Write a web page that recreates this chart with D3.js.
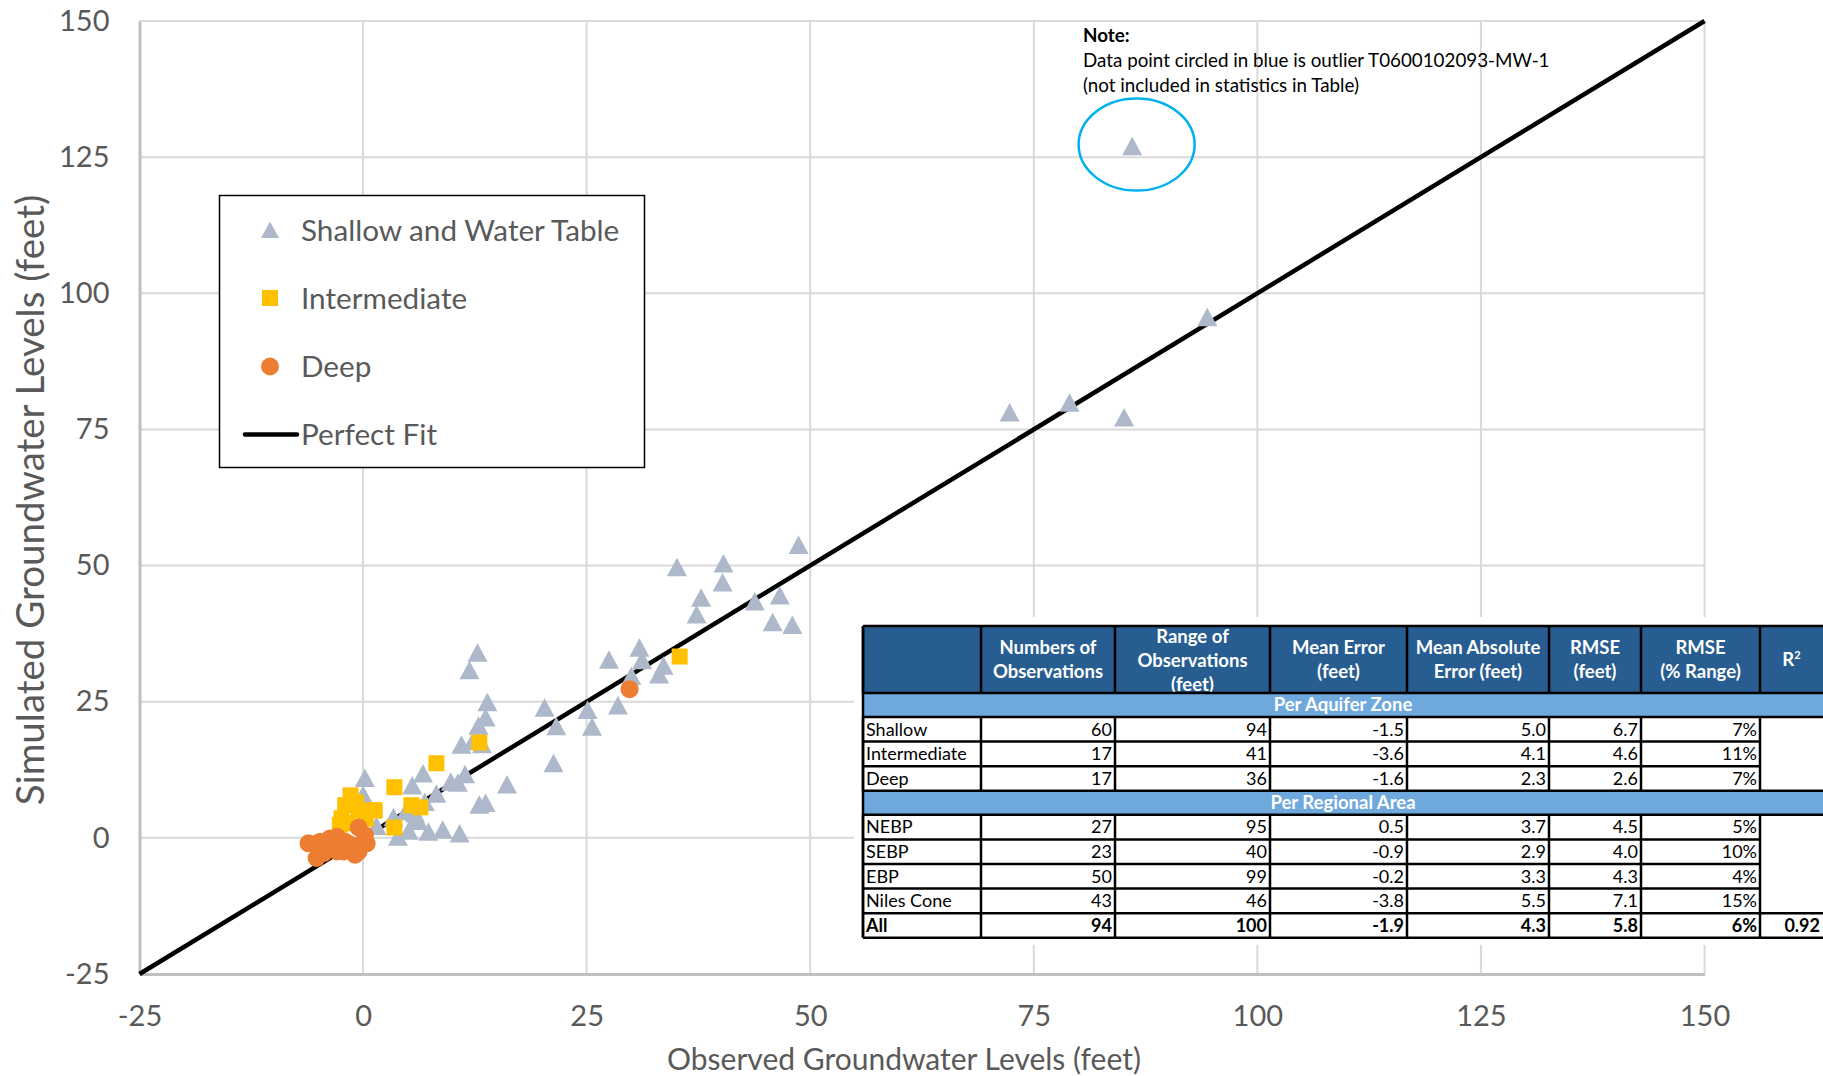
<!DOCTYPE html>
<html>
<head>
<meta charset="utf-8">
<script src="https://cdn.jsdelivr.net/npm/d3@7"></script>
<style>
  body { margin: 0; background: #fff; }
  svg { display: block; font-family: Lato, "Open Sans", sans-serif; }
</style>
</head>
<body>
<svg id="chart" width="1823" height="1076"></svg>
<script>
// observed vs simulated (feet)
const shallow = [
  [94.4, 95.6], [72.3, 78.1], [79.0, 79.9], [85.1, 77.2],
  [48.7, 53.8], [35.1, 49.7], [40.3, 50.4], [40.2, 46.9], [37.8, 44.1], [37.3, 41.0],
  [43.8, 43.4], [46.6, 44.5], [45.8, 39.6], [48.0, 39.1],
  [27.5, 32.7], [30.9, 34.9], [31.2, 32.6], [33.6, 31.6], [33.1, 30.0], [30.0, 29.7],
  [28.5, 24.3], [25.1, 23.5], [20.3, 23.9], [21.6, 20.5], [25.6, 20.4], [21.3, 13.7],
  [12.8, 34.0], [11.9, 30.8], [13.9, 24.9], [13.7, 22.1], [12.9, 20.6], [11.0, 17.1], [13.3, 17.2],
  [6.7, 11.8], [9.8, 10.3], [11.4, 11.7], [10.6, 10.1], [16.1, 9.8], [5.5, 9.6], [8.2, 8.1],
  [6.9, 6.6], [13.0, 6.1], [13.7, 6.4], [4.8, 4.9], [6.0, 3.1], [5.1, 1.3], [7.3, 1.1],
  [8.9, 1.5], [10.8, 0.8], [3.4, 3.8], [1.5, 2.2], [3.9, 0.2], [0.2, 11.0], [0.0, 7.9], [6.0, 3.6],
  [12.3, 17.8], [5.8, 4.5]
];
const outlier = [86.0, 127.0];
const intermediate = [
  [35.4, 33.3], [13.0, 17.5], [8.2, 13.7], [3.5, 9.3], [-1.4, 7.8], [5.4, 6.0], [6.4, 5.6],
  [-0.5, 5.0], [1.1, 5.1], [-2.4, 3.6], [-1.8, 2.7], [3.5, 1.9], [-2.0, 6.0], [-2.6, 2.4],
  [0.3, 3.5], [-0.8, 6.5], [1.3, 5.0]
];
const deep = [
  [29.8, 27.3], [-6.1, -1.0], [-4.8, -0.7], [-3.7, -0.1], [-2.9, 0.2], [-2.0, -0.7], [-1.3, -1.3],
  [-0.5, -2.5], [0.4, -1.0], [0.2, 0.5], [-0.5, 1.9], [-5.2, -3.7], [-4.4, -2.8], [-2.9, -2.5],
  [-2.2, -2.5], [-0.9, -3.1], [-3.5, -1.5]
];
const perfectFit = [[-25, -25], [150, 150]];

const xTicks = [-25, 0, 25, 50, 75, 100, 125, 150];
const yTicks = [-25, 0, 25, 50, 75, 100, 125, 150];

const legendItems = ['Shallow and Water Table', 'Intermediate', 'Deep', 'Perfect Fit'];
const noteLines = ['Data point circled in blue is outlier T0600102093-MW-1', '(not included in statistics in Table)'];

// statistics table
const tableHeader = [
  [''], ['Numbers of', 'Observations'], ['Range of', 'Observations', '(feet)'], ['Mean Error', '(feet)'],
  ['Mean Absolute', 'Error (feet)'], ['RMSE', '(feet)'], ['RMSE', '(% Range)'], ['R2']
];
const zoneRows = [
  ['Shallow', '60', '94', '-1.5', '5.0', '6.7', '7%'],
  ['Intermediate', '17', '41', '-3.6', '4.1', '4.6', '11%'],
  ['Deep', '17', '36', '-1.6', '2.3', '2.6', '7%']
];
const regionRows = [
  ['NEBP', '27', '95', '0.5', '3.7', '4.5', '5%'],
  ['SEBP', '23', '40', '-0.9', '2.9', '4.0', '10%'],
  ['EBP', '50', '99', '-0.2', '3.3', '4.3', '4%'],
  ['Niles Cone', '43', '46', '-3.8', '5.5', '7.1', '15%']
];
const allRow = ['All', '94', '100', '-1.9', '4.3', '5.8', '6%', '0.92'];

const COLORS = {
  shallow: '#adb9ca', intermediate: '#ffc000', deep: '#ed7d31',
  grid: '#d9d9d9', axis: '#bfbfbf', text: '#595959',
  header: '#275d91', band: '#6fa8dc', outlier: '#00b0f0'
};

const svg = d3.select('#chart');
const x = d3.scaleLinear().domain([-25, 150]).range([139.5, 1704.5]);
const y = d3.scaleLinear().domain([-25, 150]).range([974, 21]);

// gridlines
const grid = svg.append('g').attr('class', 'grid');
grid.selectAll('line.v').data(xTicks.slice(1)).join('line')
  .attr('class', 'v')
  .attr('x1', d => x(d)).attr('x2', d => x(d))
  .attr('y1', y(150)).attr('y2', y(-25))
  .attr('stroke', COLORS.grid).attr('stroke-width', 2);
grid.selectAll('line.h').data(yTicks.slice(1)).join('line')
  .attr('class', 'h')
  .attr('x1', x(-25)).attr('x2', x(150))
  .attr('y1', d => y(d)).attr('y2', d => y(d))
  .attr('stroke', COLORS.grid).attr('stroke-width', 2);

// axes (plain hyphen for negatives, like the source)
const fmt = d => String(d);
const xAxis = svg.append('g')
  .attr('transform', `translate(0,${y(-25)})`)
  .call(d3.axisBottom(x).tickValues(xTicks).tickFormat(fmt).tickSize(0).tickPadding(31));
const yAxis = svg.append('g')
  .attr('transform', `translate(${x(-25)},0)`)
  .call(d3.axisLeft(y).tickValues(yTicks).tickFormat(fmt).tickSize(0).tickPadding(30));
[xAxis, yAxis].forEach(a => {
  a.select('.domain').attr('stroke', COLORS.axis).attr('stroke-width', 3);
  a.selectAll('text').attr('fill', COLORS.text).style('font-size', '29px').style('font-family', 'Lato');
});

svg.append('text')
  .attr('x', 904).attr('y', 1059).attr('dy', '0.35em')
  .attr('text-anchor', 'middle').attr('fill', COLORS.text)
  .style('font-size', '30px')
  .text('Observed Groundwater Levels (feet)');
svg.append('text')
  .attr('transform', 'translate(31,500) rotate(-90)')
  .attr('dy', '0.35em')
  .attr('text-anchor', 'middle').attr('fill', COLORS.text)
  .style('font-size', '38.5px')
  .text('Simulated Groundwater Levels (feet)');

// perfect fit line
svg.append('path')
  .datum(perfectFit)
  .attr('d', d3.line().x(d => x(d[0])).y(d => y(d[1])))
  .attr('stroke', '#000').attr('stroke-width', 4.5).attr('fill', 'none');

// markers
const triPath = 'M0,-9.5L10,9L-10,9Z';
const marks = svg.append('g').attr('class', 'marks');
marks.selectAll('path.shallow').data(shallow.concat([outlier])).join('path')
  .attr('class', 'shallow')
  .attr('d', triPath)
  .attr('transform', d => `translate(${x(d[0])},${y(d[1])})`)
  .attr('fill', COLORS.shallow);
marks.selectAll('rect.intermediate').data(intermediate).join('rect')
  .attr('class', 'intermediate')
  .attr('x', d => x(d[0]) - 8).attr('y', d => y(d[1]) - 8)
  .attr('width', 16).attr('height', 16)
  .attr('fill', COLORS.intermediate);
marks.selectAll('circle.deep').data(deep).join('circle')
  .attr('class', 'deep')
  .attr('cx', d => x(d[0])).attr('cy', d => y(d[1]))
  .attr('r', 9)
  .attr('fill', COLORS.deep);

// outlier ring and note
svg.append('ellipse')
  .attr('cx', x(86.5)).attr('cy', y(127.3))
  .attr('rx', 58).attr('ry', 46)
  .attr('fill', 'none').attr('stroke', COLORS.outlier).attr('stroke-width', 2.5);
const note = svg.append('g').style('font-size', '18.8px').attr('fill', '#000');
note.append('text').attr('x', 1083).attr('y', 42).style('font-weight', 'bold').text('Note:');
note.selectAll('text.line').data(noteLines).join('text')
  .attr('class', 'line')
  .attr('x', 1083).attr('y', (d, i) => 67 + i * 25)
  .text(d => d);

// legend
const legend = svg.append('g');
legend.append('rect')
  .attr('x', 219.5).attr('y', 195.5).attr('width', 425).attr('height', 272)
  .attr('fill', '#fff').attr('stroke', '#000').attr('stroke-width', 1.5);
const legRowY = [230, 298, 366.5, 434.5];
legend.selectAll('text').data(legendItems).join('text')
  .attr('x', 301).attr('y', (d, i) => legRowY[i]).attr('dy', '0.36em')
  .attr('fill', COLORS.text).style('font-size', '29.7px')
  .text(d => d);
legend.append('path').attr('d', 'M0,-8.5L9,8L-9,8Z')
  .attr('transform', `translate(270,${legRowY[0]})`).attr('fill', COLORS.shallow);
legend.append('rect').attr('x', 262).attr('y', legRowY[1] - 8).attr('width', 16).attr('height', 16)
  .attr('fill', COLORS.intermediate);
legend.append('circle').attr('cx', 270).attr('cy', legRowY[2]).attr('r', 9).attr('fill', COLORS.deep);
legend.append('line').attr('x1', 245).attr('x2', 297).attr('y1', legRowY[3]).attr('y2', legRowY[3])
  .attr('stroke', '#000').attr('stroke-width', 4.5).attr('stroke-linecap', 'round');

// table
const colEdges = [863, 981, 1115, 1270, 1407, 1549, 1641, 1760, 1823];
const headerTop = 626, headerH = 67, bandH = 24, rowH = 24.6;
const tableW = colEdges[colEdges.length - 1] - colEdges[0];
const tbl = svg.append('g').attr('class', 'table').style('font-size', '18px');

const bandTop1 = headerTop + headerH;
const zoneTop = bandTop1 + bandH;
const bandTop2 = zoneTop + zoneRows.length * rowH;
const regionTop = bandTop2 + bandH;
const allTop = regionTop + regionRows.length * rowH;
const tableBottom = allTop + rowH;

tbl.append('rect')
  .attr('x', colEdges[0] - 9).attr('y', headerTop - 9)
  .attr('width', 1823 - colEdges[0] + 9).attr('height', tableBottom - headerTop + 16)
  .attr('fill', '#fff');

// header
tbl.append('rect').attr('x', colEdges[0]).attr('y', headerTop)
  .attr('width', tableW).attr('height', headerH).attr('fill', COLORS.header);
const hdr = tbl.append('g').attr('fill', '#fff').style('font-weight', 'bold').style('font-size', '18.5px');
svg.append('clipPath').attr('id', 'headClip')
  .append('rect').attr('x', colEdges[0]).attr('y', headerTop).attr('width', tableW).attr('height', headerH);
hdr.attr('clip-path', 'url(#headClip)');
tableHeader.forEach((lines, c) => {
  const cx = (colEdges[c] + colEdges[c + 1]) / 2;
  const lh = 24;
  const y0 = lines.length === 3 ? headerTop + 11 : headerTop + 22;
  lines.forEach((ln, i) => {
    const t = hdr.append('text').attr('x', cx).attr('y', y0 + i * lh).attr('dy', '0.35em')
      .attr('text-anchor', 'middle');
    if (ln === 'R2') {
      t.attr('y', headerTop + headerH / 2);
      t.append('tspan').text('R');
      t.append('tspan').attr('dy', '-0.6em').style('font-size', '11px').text('2');
    } else {
      t.text(ln);
    }
  });
});

// bands
[[bandTop1, 'Per Aquifer Zone'], [bandTop2, 'Per Regional Area']].forEach(([top, label]) => {
  tbl.append('rect').attr('x', colEdges[0]).attr('y', top).attr('width', tableW).attr('height', bandH)
    .attr('fill', COLORS.band);
  tbl.append('text').attr('x', colEdges[0] + tableW / 2).attr('y', top + bandH / 2).attr('dy', '0.35em')
    .attr('text-anchor', 'middle').attr('fill', '#fff').style('font-weight', 'bold').style('font-size', '18.5px')
    .text(label);
});

function drawRows(rows, top, bold) {
  rows.forEach((row, r) => {
    const ry = top + r * rowH;
    row.forEach((val, c) => {
      const anchorLeft = c === 0;
      tbl.append('text')
        .attr('x', anchorLeft ? colEdges[c] + 3 : colEdges[c + 1] - 3)
        .attr('y', ry + rowH / 2).attr('dy', '0.35em')
        .attr('text-anchor', anchorLeft ? 'start' : 'end')
        .attr('fill', '#000')
        .style('font-weight', bold ? 'bold' : 'normal')
        .text(val);
    });
  });
}
drawRows(zoneRows, zoneTop, false);
drawRows(regionRows, regionTop, false);
drawRows([allRow], allTop, true);

// borders
const lines = tbl.append('g').attr('stroke', '#000').attr('stroke-width', 2.5);
const lastInner = colEdges.length - 2; // left edge of R2 column
const right = colEdges[colEdges.length - 1] + 5;
function hline(yv, x1, x2) { lines.append('line').attr('x1', x1).attr('x2', x2).attr('y1', yv).attr('y2', yv); }
function vline(xv, y1, y2) { lines.append('line').attr('x1', xv).attr('x2', xv).attr('y1', y1).attr('y2', y2); }
[headerTop, bandTop1, zoneTop, bandTop2, regionTop, allTop, tableBottom].forEach(yv => hline(yv, colEdges[0], right));
[1, 2].forEach(r => hline(zoneTop + r * rowH, colEdges[0], colEdges[lastInner]));
[1, 2, 3].forEach(r => hline(regionTop + r * rowH, colEdges[0], colEdges[lastInner]));
colEdges.slice(0, 8).forEach(xv => {
  vline(xv, headerTop, bandTop1);
  vline(xv, zoneTop, bandTop2);
  vline(xv, regionTop, tableBottom);
});
vline(colEdges[0], headerTop, tableBottom);
</script>
</body>
</html>
